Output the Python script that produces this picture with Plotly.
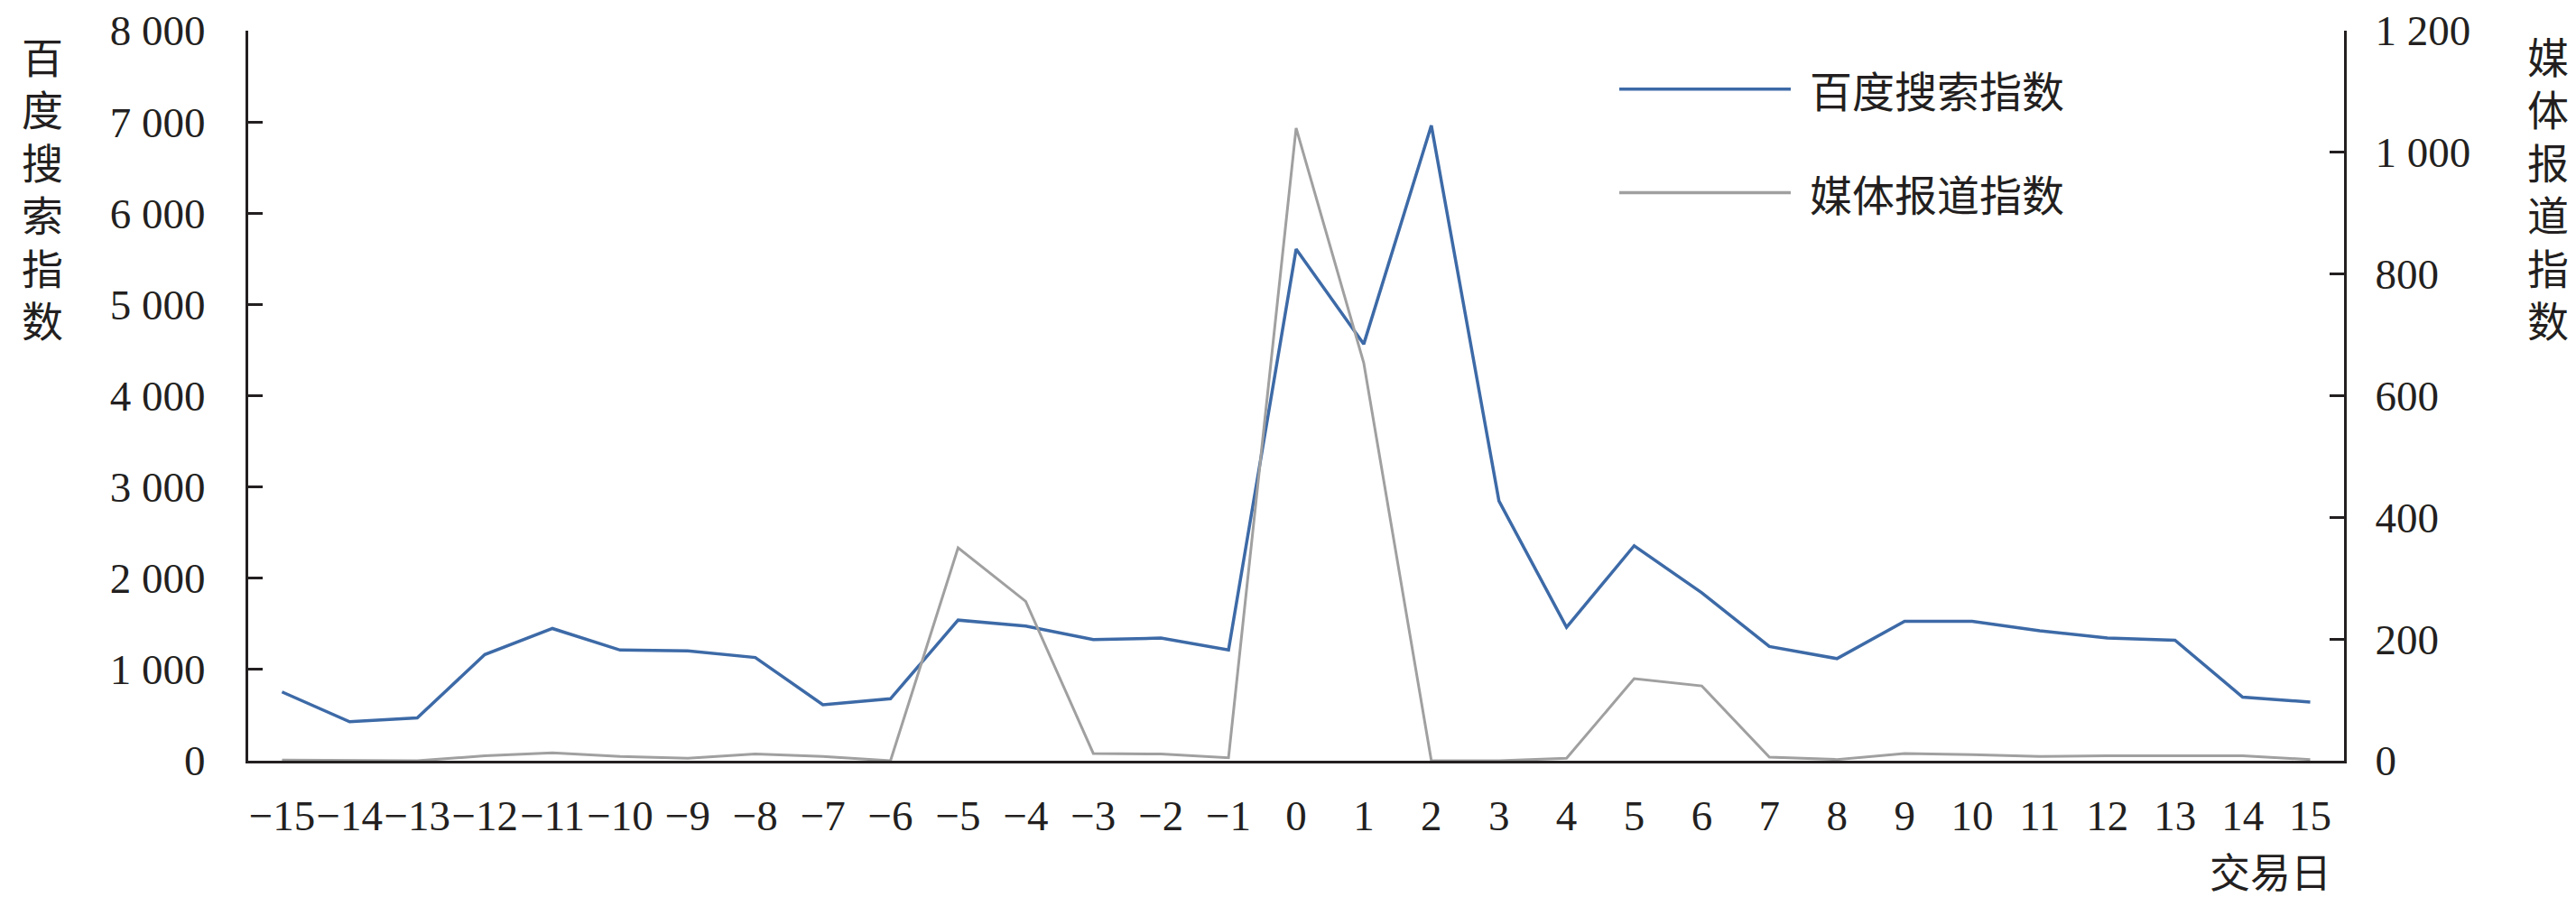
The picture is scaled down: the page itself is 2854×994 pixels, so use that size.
import plotly.graph_objects as go

# Торговые дни относительно события
days = list(range(-15, 16))
day_labels = [str(d).replace("-", "\u2212") for d in days]

# Индекс поиска Baidu (левая ось)
baidu = [754, 427, 469, 1164, 1449, 1213, 1203, 1131, 614, 679,
         1541, 1475, 1327, 1344, 1213,
         5606, 4565, 6961, 2847, 1463, 2356, 1841, 1252, 1119, 1527,
         1527, 1424, 1345, 1321, 697, 643]

# Индекс медиа-упоминаний (правая ось)
media = [1, 1, 0, 8, 13, 7, 4, 11, 7, 0,
         350, 262, 12, 11, 5,
         1040, 654, 0, 0, 4, 135, 123, 6, 2, 12,
         10, 7, 8, 8, 8, 2]

left_ticks = [0, 1000, 2000, 3000, 4000, 5000, 6000, 7000, 8000]
right_ticks = [0, 200, 400, 600, 800, 1000, 1200]

INK = "#231F20"
BLUE = "#3D6AA7"
GREY = "#A0A0A0"
NUM_FONT = "Liberation Serif"
CJK_FONT = "Noto Sans CJK SC"

fig = go.Figure()
fig.add_trace(go.Scatter(x=days, y=baidu, mode="lines", name="百度搜索指数",
                         line=dict(color=BLUE, width=3.5)))
fig.add_trace(go.Scatter(x=days, y=media, mode="lines", name="媒体报道指数",
                         yaxis="y2", line=dict(color=GREY, width=3)))

fig.update_layout(
    width=2854, height=994,
    margin=dict(l=267, r=265, t=26, b=159),
    paper_bgcolor="white", plot_bgcolor="white",
    showlegend=False,
    separators=". ",
    font=dict(family=NUM_FONT, size=47, color=INK),
    xaxis=dict(range=[-15.5, 15.5], tickmode="array", tickvals=days, ticktext=day_labels,
               automargin=False, tickangle=0, ticklabeloverflow="allow",
               showgrid=False, zeroline=False, showline=True, linecolor=INK, linewidth=3,
               ticks="", ticklabelstandoff=18,
               tickfont=dict(family=NUM_FONT, size=47, color=INK)),
    yaxis=dict(range=[0, 8000], tickvals=left_ticks, tickformat=",d", automargin=False,
               ticklabeloverflow="allow",
               showgrid=False, zeroline=False, showline=True, linecolor=INK, linewidth=3,
               ticks="inside", ticklen=16, tickwidth=3, tickcolor=INK,
               ticklabelstandoff=35,
               tickfont=dict(family=NUM_FONT, size=47, color=INK)),
    yaxis2=dict(range=[0, 1200], tickvals=right_ticks, tickformat=",d", automargin=False,
                ticklabeloverflow="allow",
                overlaying="y", side="right",
                showgrid=False, zeroline=False, showline=True, linecolor=INK, linewidth=3,
                ticks="inside", ticklen=16, tickwidth=3, tickcolor=INK,
                ticklabelstandoff=22,
                tickfont=dict(family=NUM_FONT, size=47, color=INK)),
)

# Вертикальные подписи осей: по одному иероглифу
step = 58.5 / 809  # шаг строки в долях высоты области построения
for i, ch in enumerate("百度搜索指数"):
    fig.add_annotation(text=ch, xref="paper", yref="paper",
                       x=-0.098, y=0.967 - i * step, xanchor="center", yanchor="middle",
                       showarrow=False, font=dict(family=CJK_FONT, size=46, color=INK))
for i, ch in enumerate("媒体报道指数"):
    fig.add_annotation(text=ch, xref="paper", yref="paper",
                       x=1.0973, y=0.967 - i * step, xanchor="center", yanchor="middle",
                       showarrow=False, font=dict(family=CJK_FONT, size=46, color=INK))

fig.add_annotation(text="交易日", xref="paper", yref="paper",
                   x=0.995, y=-0.150, xanchor="right", yanchor="middle", showarrow=False,
                   font=dict(family=CJK_FONT, size=45, color=INK))

# Легенда вручную (длинные линии как в оригинале)
legend_items = [("百度搜索指数", BLUE, 0.920), ("媒体报道指数", GREY, 0.778)]
for label, color, ly in legend_items:
    fig.add_shape(type="line", xref="paper", yref="paper",
                  x0=0.6542, x1=0.736, y0=ly, y1=ly,
                  line=dict(color=color, width=3.5))
    fig.add_annotation(text=label, xref="paper", yref="paper",
                       x=0.744, y=ly, xanchor="left", yanchor="middle", showarrow=False,
                       font=dict(family=CJK_FONT, size=47, color=INK))

fig.write_html("out.html")
